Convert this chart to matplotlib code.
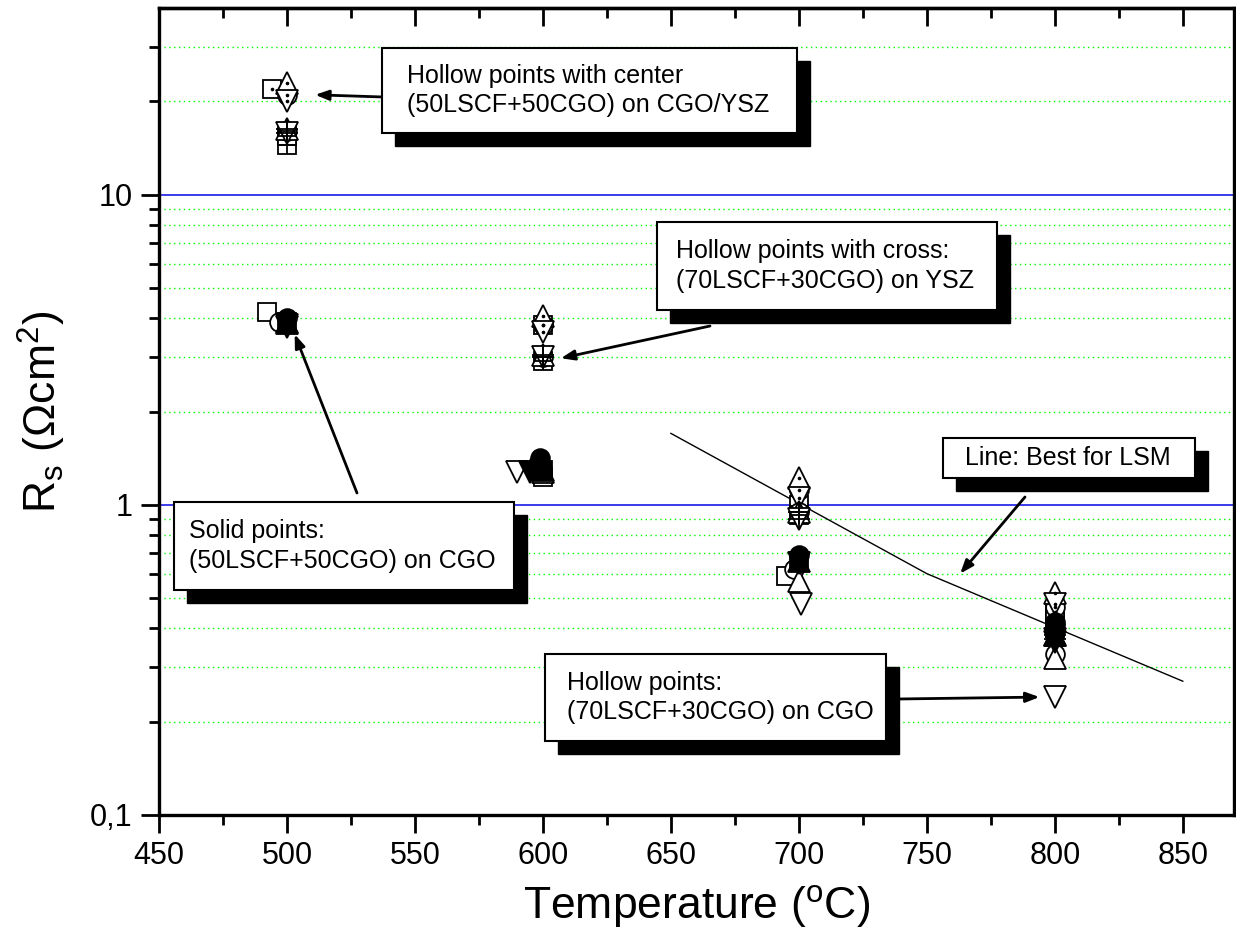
import matplotlib
matplotlib.use('Agg')
import matplotlib.pyplot as plt
from matplotlib.patches import Rectangle
from matplotlib.ticker import FixedLocator, FixedFormatter, MultipleLocator, NullFormatter

plt.rcParams['font.family'] = ['Liberation Sans', 'DejaVu Sans']
plt.rcParams['mathtext.default'] = 'regular'

# ---------------- data ----------------
# Solid points: (50LSCF+50CGO) on CGO
solid_sq_T = [500, 600, 700, 800]
solid_sq = [3.9, 1.30, 0.66, 0.40]
solid_circ_T = [500, 599, 700, 800]
solid_circ = [4.0, 1.42, 0.69, 0.42]
solid_up_T = [500, 600, 700, 800]
solid_up = [3.85, 1.30, 0.66, 0.38]
solid_dn_T = [500, 595, 700, 800]
solid_dn = [3.75, 1.28, 0.65, 0.36]

# Hollow points: (70LSCF+30CGO) on CGO
hol_sq_T = [492, 600, 695, 800]
hol_sq = [4.2, 1.23, 0.59, 0.43]
hol_circ_T = [497, 598, 698, 800]
hol_circ = [3.9, 1.35, 0.62, 0.33]
hol_up_T = [500, 600, 700, 800]
hol_up = [3.9, 1.28, 0.57, 0.32]
hol_dn_T = [500, 590, 701, 800]
hol_dn = [3.8, 1.28, 0.48, 0.24]

# Hollow points with center: (50LSCF+50CGO) on CGO/YSZ
cen_sq_T = [494, 600, 700, 800]
cen_sq = [22, 3.8, 1.0, 0.45]
cen_circ_T = [500, 600, 700, 800]
cen_circ = [21, 3.8, 1.12, 0.47]
cen_up_T = [500, 600, 700, 800]
cen_up = [23, 4.05, 1.22, 0.52]
cen_dn_T = [500, 600, 700, 800]
cen_dn = [20, 3.6, 1.05, 0.48]

# Hollow points with cross: (70LSCF+30CGO) on YSZ
crs_sq_T = [500, 500, 600, 700, 800]
crs_sq = [14.5, 15.5, 2.9, 0.93, 0.40]
crs_circ_T = [500, 600, 700, 800]
crs_circ = [16, 3.0, 0.95, 0.41]
crs_up_T = [500, 600, 700, 800]
crs_up = [16.3, 3.05, 0.95, 0.38]
crs_dn_T = [500, 600, 700, 800]
crs_dn = [15.8, 3.0, 0.90, 0.37]

# Line: Best for LSM
lsm_T = [650, 750, 850]
lsm_R = [1.7, 0.6, 0.27]

x_ticks = [450, 500, 550, 600, 650, 700, 750, 800, 850]
y_major = [0.1, 1, 10]
y_labels = ['0,1', '1', '10']

# ---------------- figure ----------------
W, H = 1236, 949
fig = plt.figure(figsize=(W / 100, H / 100), dpi=100)
ax = fig.add_axes([159 / W, 1 - 815 / H, (1234 - 159) / W, (815 - 8) / H])

ax.set_yscale('log')
ax.set_xlim(450, 870)
ax.set_ylim(0.1, 40)

y_minor = [m * d for d in (0.1, 1, 10) for m in range(2, 10) if m * d < 40]
for v in y_minor:
    ax.axhline(v, color='#00ff00', lw=1, ls=(0, (1, 2.5)), zorder=0.5)
for v in (1, 10):
    ax.axhline(v, color='#1a1ae6', lw=1.2, zorder=0.6)

SIZES = {'s': 12.5, 'o': 13.5, '^': 15.5, 'v': 15.5}
def series(T, V, marker, filled=False, deco=None):
    ms = SIZES[marker]
    ax.plot(T, V, ls='none', marker=marker, ms=ms, mew=1.3,
            mfc='black' if filled else 'white', mec='black', zorder=3)
    if deco == 'dot':
        ax.plot(T, V, ls='none', marker='o', ms=1.6, mfc='black', mec='black', zorder=4)
    elif deco == 'cross':
        ax.plot(T, V, ls='none', marker='+', ms=ms, mew=1.3, color='black', zorder=4)

series(hol_sq_T, hol_sq, 's')
series(hol_circ_T, hol_circ, 'o')
series(hol_up_T, hol_up, '^')
series(hol_dn_T, hol_dn, 'v')
series(cen_sq_T, cen_sq, 's', deco='dot')
series(cen_circ_T, cen_circ, 'o', deco='dot')
series(cen_up_T, cen_up, '^', deco='dot')
series(cen_dn_T, cen_dn, 'v', deco='dot')
series(crs_sq_T, crs_sq, 's', deco='cross')
series(crs_circ_T, crs_circ, 'o', deco='cross')
series(crs_up_T, crs_up, '^', deco='cross')
series(crs_dn_T, crs_dn, 'v', deco='cross')
series(solid_sq_T, solid_sq, 's', filled=True)
series(solid_circ_T, solid_circ, 'o', filled=True)
series(solid_up_T, solid_up, '^', filled=True)
series(solid_dn_T, solid_dn, 'v', filled=True)

ax.plot(lsm_T, lsm_R, color='black', lw=1, zorder=2)

# ticks
ax.xaxis.set_major_locator(FixedLocator(x_ticks))
ax.xaxis.set_minor_locator(MultipleLocator(25))
ax.yaxis.set_major_locator(FixedLocator(y_major))
ax.yaxis.set_major_formatter(FixedFormatter(y_labels))
ax.yaxis.set_minor_locator(FixedLocator(y_minor))
ax.yaxis.set_minor_formatter(NullFormatter())
ax.tick_params(which='major', direction='out', length=13, width=2, labelsize=22, pad=6)
ax.tick_params(which='minor', direction='out', length=7, width=2)
for s in ax.spines.values():
    s.set_linewidth(2.4)

top = ax.secondary_xaxis('top')
top.xaxis.set_major_locator(FixedLocator(x_ticks))
top.xaxis.set_minor_locator(MultipleLocator(25))
top.tick_params(which='major', direction='in', length=13, width=2, labeltop=False)
top.tick_params(which='minor', direction='in', length=7, width=2)
top.spines['top'].set_linewidth(2.4)

ax.set_xlabel('Temperature ($^{o}$C)', fontsize=32, labelpad=8)
ax.set_ylabel('R$_{s}$ (Ωcm$^{2}$)', fontsize=32, labelpad=16)

# ---------------- annotation boxes ----------------
def box(x0, y0, x1, y1, text, tx, off=13):
    fig.add_artist(Rectangle(((x0 + off) / W, 1 - (y1 + off) / H), (x1 - x0) / W, (y1 - y0) / H,
                             transform=fig.transFigure, facecolor='black', edgecolor='black', zorder=10))
    fig.add_artist(Rectangle((x0 / W, 1 - y1 / H), (x1 - x0) / W, (y1 - y0) / H,
                             transform=fig.transFigure, facecolor='white', edgecolor='black',
                             lw=1.5, zorder=11))
    fig.text(tx / W, 1 - (y0 + y1) / 2 / H, text, ha='left', va='center', fontsize=18,
             zorder=12, linespacing=1.3)

def arrow(xy_data, tail_px):
    ax.annotate('', xy=xy_data, xycoords='data',
                xytext=(tail_px[0], H - tail_px[1]), textcoords='figure pixels',
                arrowprops=dict(arrowstyle='-|>,head_length=0.8,head_width=0.3', lw=2,
                                color='black', shrinkA=0, shrinkB=0),
                annotation_clip=False, zorder=9)

arrow((511, 21), (383, 97))
box(382, 48, 797, 133, 'Hollow points with center\n(50LSCF+50CGO) on CGO/YSZ', 407)

arrow((607, 2.97), (710, 326))
box(657, 222, 997, 310, 'Hollow points with cross:\n(70LSCF+30CGO) on YSZ', 676)

arrow((763, 0.6), (1025, 497))
box(943, 438, 1195, 478, 'Line: Best for LSM', 965)

arrow((503, 3.55), (357, 493))
box(174, 502, 514, 590, 'Solid points:\n(50LSCF+50CGO) on CGO', 189)

arrow((794, 0.24), (898, 699))
box(545, 654, 886, 741, 'Hollow points:\n(70LSCF+30CGO) on CGO', 567)

fig.savefig('out.png', dpi=100)
